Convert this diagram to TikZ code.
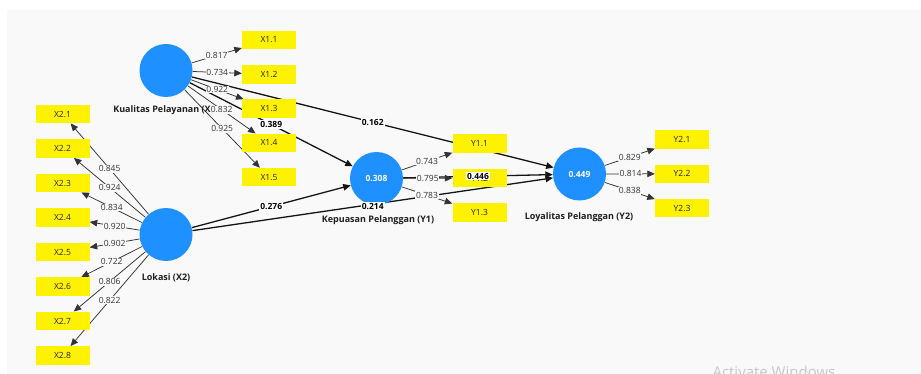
\documentclass[tikz,border=0pt]{standalone}
\usepackage{fontspec}
\setmainfont{Open Sans}
\usetikzlibrary{arrows.meta}
\pgfdeclarelayer{canvas}
\pgfdeclarelayer{edges}
\pgfsetlayers{canvas,edges,main}
\definecolor{bg}{HTML}{F9F9F9}
\definecolor{plsblue}{RGB}{30,144,255}
\definecolor{ink}{HTML}{333333}
\tikzset{
  lv/.style={circle, fill=plsblue, minimum size=53pt, inner sep=0pt, text=white,
    font=\bfseries\fontsize{8.5}{10}\selectfont},
  lvname/.style={text=black!88, font=\bfseries\fontsize{9}{10}\selectfont},
  ind/.style={fill=yellow, minimum width=54pt, minimum height=18.5pt, inner sep=0pt,
    text=black!85, font=\fontsize{8.5}{10}\selectfont},
  tip/.style={-{Triangle[length=7.5pt,width=6.5pt]}},
  meas/.style={tip, draw=ink, line width=0.75pt},
  struct/.style={tip, draw=black!92, line width=1.3pt},
  wlab/.style={fill=bg, inner sep=0.8pt, text=ink, font=\fontsize{8.5}{10}\selectfont},
  plab/.style={fill=white, inner sep=1pt, text=black, font=\bfseries\fontsize{8.5}{10}\selectfont}
}
\begin{document}
\begin{tikzpicture}[x=1pt,y=-1pt]
\useasboundingbox (0,0) rectangle (921,374);
\begin{pgfonlayer}{canvas}
  \fill[white] (0,0) rectangle (921,374);
  \fill[bg] (7,10) rectangle (921,374);
\end{pgfonlayer}

% latent variables
\node[lv] (kp)  at (166,70.5)   {};
\node[lv] (lk)  at (166,234.5)  {};
\node[lv] (kep) at (376.5,178.5) {0.308};
\node[lv] (loy) at (579.5,174)  {0.449};
\node[lvname] at (162,110) {Kualitas Pelayanan (X};
\node[lvname] at (166,278) {Lokasi (X2)};
\node[lvname] at (378,220) {Kepuasan Pelanggan (Y1)};
\node[lvname] at (579,217) {Loyalitas Pelanggan (Y2)};

% indicators
\foreach \k in {1,...,5} \node[ind] (x1\k) at (269,{40+34.3*(\k-1)}) {X1.\k};
\foreach \k in {1,...,8} \node[ind] (x2\k) at (62.5,{114+34.5*(\k-1)}) {X2.\k};
\foreach \k in {1,...,3} \node[ind] (y1\k) at (479.5,{143.5+34.5*(\k-1)}) {Y1.\k};
\foreach \k in {1,...,3} \node[ind] (y2\k) at (682,{139.5+34.3*(\k-1)}) {Y2.\k};

\begin{pgfonlayer}{edges}
  % inner model
  \draw[struct] (kp) -- (loy);
  \draw[struct] (kp) -- (kep);
  \draw[struct] (lk) -- (kep);
  \draw[struct] (lk) -- (loy);
  \draw[struct] (kep) -- (loy);
  % outer loadings
  \foreach \k/\v in {1/0.817,2/0.734,3/0.922,4/0.832,5/0.925}
    \draw[meas] (kp) -- node[wlab,pos=0.5]{\v} (x1\k);
  \foreach \k/\v in {1/0.845,2/0.924,3/0.834,4/0.920,5/0.902,6/0.722,7/0.806,8/0.822}
    \draw[meas] (lk) -- node[wlab,pos=0.5]{\v} (x2\k);
  \foreach \k/\v in {1/0.743,2/0.795,3/0.783}
    \draw[meas] (kep) -- node[wlab,pos=0.5]{\v} (y1\k);
  \foreach \k/\v in {1/0.829,2/0.814,3/0.838}
    \draw[meas] (loy) -- node[wlab,pos=0.5]{\v} (y2\k);
\end{pgfonlayer}

% path coefficients
\path (kp) -- node[plab,pos=0.5]{0.162} (loy);
\path (kp) -- node[plab,pos=0.5]{0.389} (kep);
\path (lk) -- node[plab,pos=0.5]{0.276} (kep);
\path (lk) -- node[plab,pos=0.5,yshift=-2pt]{0.214} (loy);
\path (kep) -- node[plab,pos=0.5]{0.446} (loy);

\node[anchor=base west, text=black!22, font=\fontsize{15}{18}\selectfont] at (709,377) {Activate Windows};
\end{tikzpicture}
\end{document}
